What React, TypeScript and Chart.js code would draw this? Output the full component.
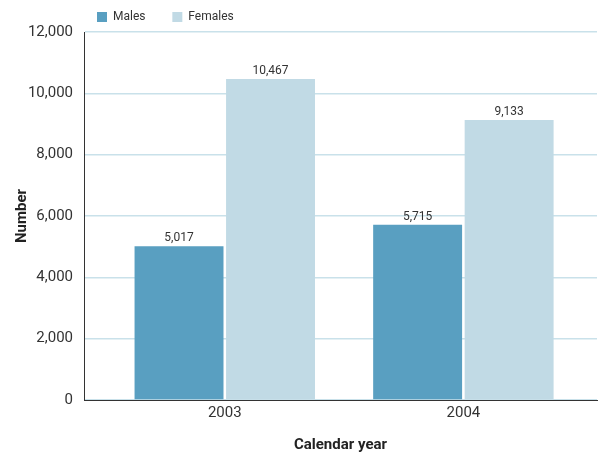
import React, { useEffect, useRef } from "react";
import { Chart, registerables } from "chart.js";

Chart.register(...registerables);

const years = [2003, 2004];
const males = [5017, 5715];
const females = [10467, 9133];
const yTicks = [0, 2000, 4000, 6000, 8000, 10000, 12000];

const FONT = "Roboto, 'Liberation Sans', sans-serif";
const TEXT = "#333333";

// Draws each bar's value centred just above it.
const valueLabels = {
  id: "valueLabels",
  afterDatasetsDraw(chart: any) {
    const { ctx } = chart;
    ctx.save();
    ctx.font = `12px ${FONT}`;
    ctx.fillStyle = TEXT;
    ctx.textAlign = "center";
    ctx.textBaseline = "bottom";
    chart.data.datasets.forEach((ds: any, i: number) => {
      const meta = chart.getDatasetMeta(i);
      meta.data.forEach((bar: any, j: number) => {
        const v = ds.data[j].y;
        ctx.fillText(v.toLocaleString("en-US"), bar.x, bar.y - 2);
      });
    });
    ctx.restore();
  },
};

// Nudges the legend slightly right of the plot's left edge and down a touch.
const legendNudge = {
  id: "legendNudge",
  afterLayout(chart: any) {
    const lg = chart.legend;
    if (!lg) return;
    lg.left += 4;
    lg.right += 4;
    lg.top += 1;
    lg.bottom += 1;
  },
};

export default function App() {
  const ref = useRef<HTMLCanvasElement>(null);

  useEffect(() => {
    const chart = new Chart(ref.current!, {
      type: "bar",
      data: {
        datasets: [
          {
            label: "Males",
            data: years.map((x, i) => ({ x, y: males[i] })),
            backgroundColor: "#599fc1",
            categoryPercentage: 0.767,
            barPercentage: 0.972,
          },
          {
            label: "Females",
            data: years.map((x, i) => ({ x, y: females[i] })),
            backgroundColor: "#c1dae5",
            categoryPercentage: 0.767,
            barPercentage: 0.972,
          },
        ],
      },
      options: {
        animation: false,
        responsive: false,
        maintainAspectRatio: false,
        layout: { padding: { top: 1, right: 3, left: 13, bottom: 0 } },
        plugins: {
          tooltip: { enabled: false },
          legend: {
            position: "top",
            align: "start",
            fullSize: false,
            labels: {
              boxWidth: 10,
              boxHeight: 10,
              padding: 9,
              color: TEXT,
              font: { family: FONT, size: 12 },
              generateLabels: (c: any) =>
                Chart.defaults.plugins.legend.labels
                  .generateLabels(c)
                  .map((item: any) => ({ ...item, text: item.text + "      " })),
            },
          },
        },
        scales: {
          x: {
            type: "linear",
            offset: false,
            min: 2002.41,
            max: 2004.56,
            afterBuildTicks: (axis: any) => {
              axis.ticks = years.map((v) => ({ value: v }));
            },
            grid: { display: false, drawTicks: false },
            border: { display: true, color: "#333333", width: 1 },
            ticks: {
              color: TEXT,
              padding: 4,
              font: { family: FONT, size: 15 },
              callback: (v: any) => String(v),
            },
            title: {
              display: true,
              text: "Calendar year",
              color: "#222222",
              font: { family: FONT, size: 15, weight: "bold" },
              padding: { top: 10, bottom: 2 },
            },
          },
          y: {
            min: 0,
            max: 12000,
            afterBuildTicks: (axis: any) => {
              axis.ticks = yTicks.map((v) => ({ value: v }));
            },
            afterFit: (axis: any) => {
              axis.width = 71;
            },
            grid: { color: "#c9e1ea", drawTicks: false, lineWidth: 1.5 },
            border: { display: true, color: "#333333", width: 1 },
            ticks: {
              color: TEXT,
              padding: 11,
              font: { family: FONT, size: 15 },
              callback: (v: any) => Number(v).toLocaleString("en-US"),
            },
            title: {
              display: true,
              text: "Number",
              color: "#222222",
              font: { family: FONT, size: 15, weight: "bold" },
              padding: { top: 0, bottom: 0 },
            },
          },
        },
      },
      plugins: [valueLabels, legendNudge],
    });
    return () => chart.destroy();
  }, []);

  return (
    <div style={{ position: "fixed", left: 0, top: 0, width: 600, height: 456, background: "#fff" }}>
      <canvas ref={ref} width={600} height={456} />
    </div>
  );
}
